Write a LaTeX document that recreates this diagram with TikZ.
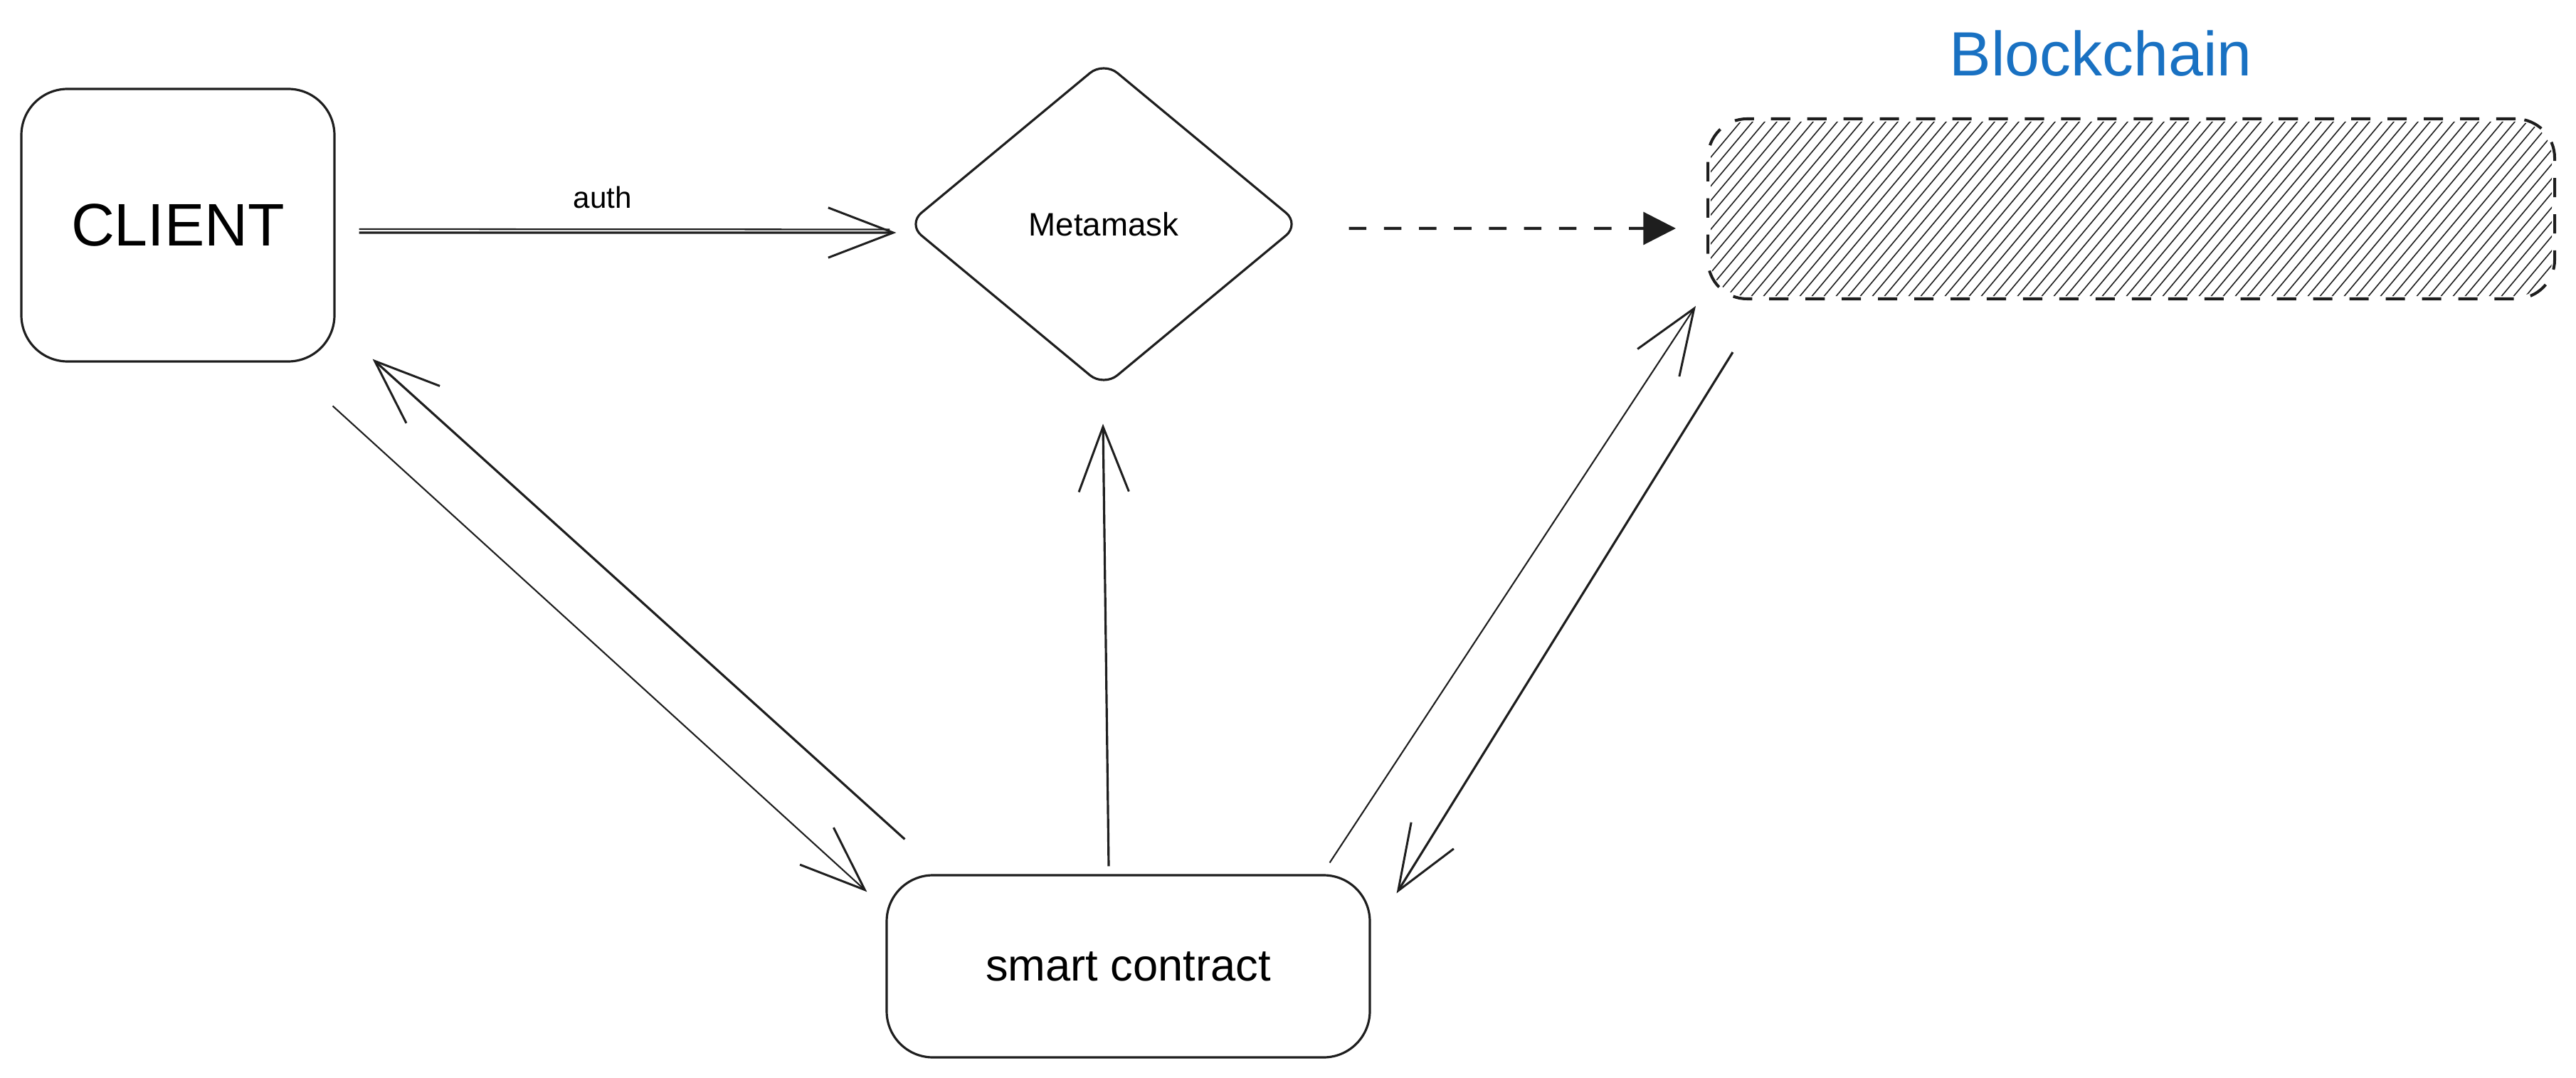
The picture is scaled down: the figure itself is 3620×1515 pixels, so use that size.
\documentclass[tikz,border=0pt]{standalone}
\usepackage{fontspec}
\setmainfont{Liberation Sans}
\usetikzlibrary{arrows.meta,shapes.geometric,calc}
\definecolor{ink}{HTML}{1E1E1E}
\definecolor{bcblue}{HTML}{1971C2}
\begin{document}
\begin{tikzpicture}[x=0.1mm,y=-0.1mm,
  box/.style={draw=ink, line width=0.9pt, rounded corners=6.5mm, inner sep=0pt},
  barb/.style={-{Straight Barb[length=26pt,width=20pt,line width=0.85pt]}},
  conn/.style={draw=ink, line width=0.9pt, barb},
  thinconn/.style={draw=ink, line width=0.6pt, barb},
  hatch/.style={draw=ink, line width=0.45pt},
  dashconn/.style={draw=ink, line width=1.15pt, dash pattern=on 7pt off 7pt, -{Triangle[length=13pt,width=13pt]}}
]
\useasboundingbox (0,0) rectangle (3620,1515);

% nodes
\node[box, minimum width=44mm, minimum height=38.3mm] (client) at (250,316.5) {\fontsize{24}{28}\selectfont CLIENT};
\node[diamond, draw=ink, line width=0.9pt, rounded corners=2.5mm, minimum width=55.2mm, minimum height=45.8mm, inner sep=0pt] (mm) at (1551,315) {\fontsize{13}{15}\selectfont Metamask};
\node[box, minimum width=67.9mm, minimum height=25.6mm] (sc) at (1585.5,1358) {\fontsize{18}{22}\selectfont smart contract};
\node[draw=ink, line width=1.15pt, dash pattern=on 7.7pt off 6.8pt, rounded corners=5.5mm, minimum width=119mm, minimum height=25.3mm, inner sep=0pt] (bc) at (2995,293.5) {};
\node[text=bcblue, inner sep=0pt] (bclabel) at (2952,75) {\fontsize{25}{30}\selectfont Blockchain};

% hachure fill
\begin{scope}
  \clip[rounded corners=5mm] ($(bc.south west)+(6,-6)$) rectangle ($(bc.north east)+(-6,6)$);
  \foreach \i in {0,...,88} \draw[hatch] (2110+\i*17,450) -- ++(260,-310);
\end{scope}

% connectors
\draw[conn] ($(client.east)+(33,10.5)$) -- ($(mm.west)+(-14,12)$);
\draw[ink, line width=0.65pt] ($(client.east)+(33,5.5)$) -- ($(mm.west)+(-23,7.5)$);
\node[inner sep=0pt] (authlbl) at (847,277) {\fontsize{12}{14}\selectfont auth};

\draw[dashconn] ($(mm.east)+(67,6)$) -- ($(bc.west)+(-43,27.5)$);

\draw[thinconn] ($(client.south east)+(-4,61)$) -- ($(sc.north west)+(-26,25)$);
\draw[conn] ($(sc.north west)+(27,-49)$) -- ($(client.south east)+(52,-5)$);
\draw[conn] ($(sc.north)+(-27.5,-11)$) -- ($(mm.south)+(-1,50)$);
\draw[thinconn] ($(sc.north east)+(-58,-16)$) -- ($(bc.south west)+(-15,8)$);
\draw[conn] ($(bc.south west)+(37,73)$) -- ($(sc.north east)+(36,27)$);
\end{tikzpicture}
\end{document}
